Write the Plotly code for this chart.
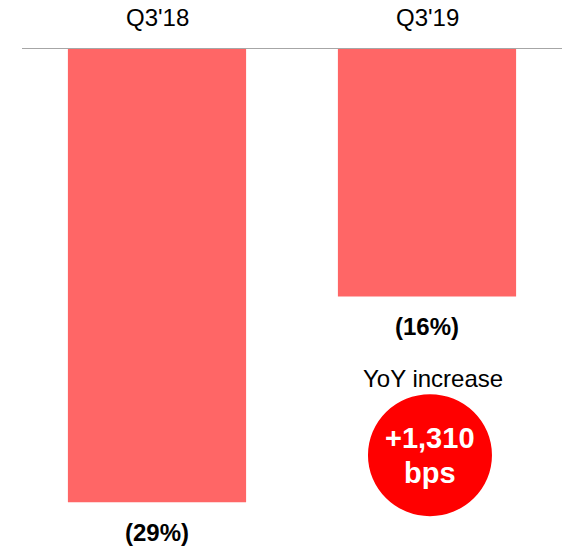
import plotly.graph_objects as go

# Operating margin by quarter (percent)
quarters = ["Q3'18", "Q3'19"]
margins = [-28.9, -15.8]

bar_color = "#FF6666"
badge_color = "#FF0000"
font_family = "Liberation Sans, Arial, sans-serif"

# year-over-year change in basis points
change_bps = round((margins[1] - margins[0]) * 100)

px_per_unit = 15.72
plot_height = 500
y_min = -plot_height / px_per_unit

fig = go.Figure()
fig.add_trace(go.Bar(
    x=[0, 1],
    y=margins,
    marker=dict(color=bar_color, line=dict(width=0)),
    width=0.66,
    hoverinfo="skip",
))

annotations = []
for i, (q, v) in enumerate(zip(quarters, margins)):
    annotations.append(dict(
        x=i, y=1, xref="x", yref="paper", yanchor="middle", yshift=31,
        text=q, showarrow=False,
        font=dict(family=font_family, size=24, color="#000000"),
    ))
    annotations.append(dict(
        x=i, y=v, xref="x", yref="y", yanchor="middle", yshift=-30,
        text=f"<b>({abs(round(v))}%)</b>", showarrow=False,
        font=dict(family=font_family, size=24, color="#000000"),
    ))

badge_x = 1.011
badge_y = -25.9
annotations.append(dict(
    x=1.022, y=badge_y, xref="x", yref="y", yanchor="middle", yshift=77,
    text="YoY increase", showarrow=False,
    font=dict(family=font_family, size=24, color="#000000"),
))
annotations.append(dict(
    x=badge_x, y=badge_y, xref="x", yref="y", yanchor="middle", yshift=17,
    text=f"<b>+{change_bps:,}</b>", showarrow=False,
    font=dict(family=font_family, size=29, color="#FFFFFF"),
))
annotations.append(dict(
    x=badge_x, y=badge_y, xref="x", yref="y", yanchor="middle", yshift=-18,
    text="<b>bps</b>", showarrow=False,
    font=dict(family=font_family, size=29, color="#FFFFFF"),
))

shapes = [
    # zero baseline
    dict(type="line", xref="paper", yref="y", x0=0, x1=1, y0=0, y1=0,
         line=dict(color="#A6A6A6", width=2)),
    # change badge
    dict(type="circle", xref="x", yref="y",
         xsizemode="pixel", ysizemode="pixel",
         xanchor=badge_x, yanchor=badge_y,
         x0=-62, x1=62, y0=-61, y1=61,
         fillcolor=badge_color, line=dict(width=0), layer="below"),
]

fig.update_layout(
    width=566, height=548,
    margin=dict(l=22, r=4, t=48, b=0),
    paper_bgcolor="white", plot_bgcolor="white",
    showlegend=False,
    xaxis=dict(range=[-0.5, 1.5], visible=False, fixedrange=True),
    yaxis=dict(range=[y_min, 0], visible=False, fixedrange=True),
    annotations=annotations,
    shapes=shapes,
)

fig.write_html("out.html")
